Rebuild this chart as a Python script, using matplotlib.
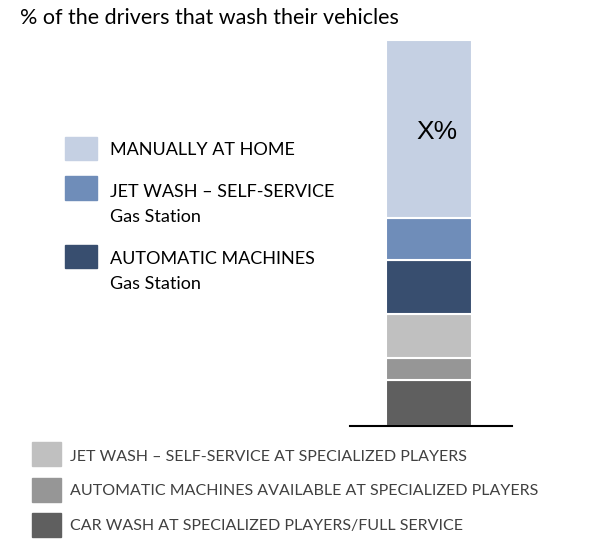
import matplotlib
matplotlib.use("Agg")
import matplotlib.pyplot as plt
from matplotlib.patches import Rectangle

W, H = 596, 545

categories = [
    "CAR WASH AT SPECIALIZED PLAYERS/FULL SERVICE",
    "AUTOMATIC MACHINES AVAILABLE AT SPECIALIZED PLAYERS",
    "JET WASH \u2013 SELF-SERVICE AT SPECIALIZED PLAYERS",
    "AUTOMATIC MACHINES\nGas Station",
    "JET WASH \u2013 SELF-SERVICE\nGas Station",
    "MANUALLY AT HOME",
]
values = [11.8, 5.7, 11.6, 13.8, 11.0, 46.1]
colors = ["#5f5f5f", "#969696", "#c0c0c0", "#384e6f", "#6f8db9", "#c5d0e3"]
label_text = "X%"

fig = plt.figure(figsize=(W / 100, H / 100), dpi=100)

def fx(px):
    return px / W

def fy(py):
    return 1 - py / H

# bar axes
ax = fig.add_axes([fx(350), fy(426), fx(512) - fx(350), fy(40) - fy(426)])
bottom = 0
for v, c in zip(values, colors):
    ax.bar(0, v, width=0.86, bottom=bottom, color=c, edgecolor="white", linewidth=1.5)
    bottom += v
ax.set_xlim(-0.79, 0.83)
ax.set_ylim(0, 100)
for s in ["left", "right", "top"]:
    ax.spines[s].set_visible(False)
ax.spines["bottom"].set_linewidth(1.5)
ax.spines["bottom"].set_color("black")
ax.set_xticks([])
ax.set_yticks([])
ax.text(0.08, sum(values[:5]) + values[5] * 0.5 - 0.8,
        label_text, ha="center", va="center", fontsize=19, family="Liberation Sans")

# title
fig.text(fx(20), fy(18), "% of the drivers that wash their vehicles",
         ha="left", va="center", fontsize=15.5, family="Lato")

# upper legend (blue series)
upper = [(5, 148.5, 150), (4, 188, 192), (3, 256, 259)]
for idx, sq_y, txt_y in upper:
    fig.patches.append(Rectangle((fx(65), fy(sq_y + 11.5)), fx(32), fy(0) - fy(23),
                                 transform=fig.transFigure, color=colors[idx]))
    lines = categories[idx].split("\n")
    for k, line in enumerate(lines):
        fig.text(fx(110), fy(txt_y + 25 * k), line, ha="left", va="center",
                 fontsize=13, family="Lato", color="black")

# lower legend (gray series)
lower = [(2, 454, 457), (1, 490, 491), (0, 525, 526)]
for idx, sq_y, txt_y in lower:
    fig.patches.append(Rectangle((fx(32), fy(sq_y + 12)), fx(29), fy(0) - fy(24),
                                 transform=fig.transFigure, color=colors[idx]))
    fig.text(fx(70), fy(txt_y), categories[idx], ha="left", va="center",
             fontsize=11.5, family="Lato", color="#404040")

fig.savefig("out.png", dpi=100)
